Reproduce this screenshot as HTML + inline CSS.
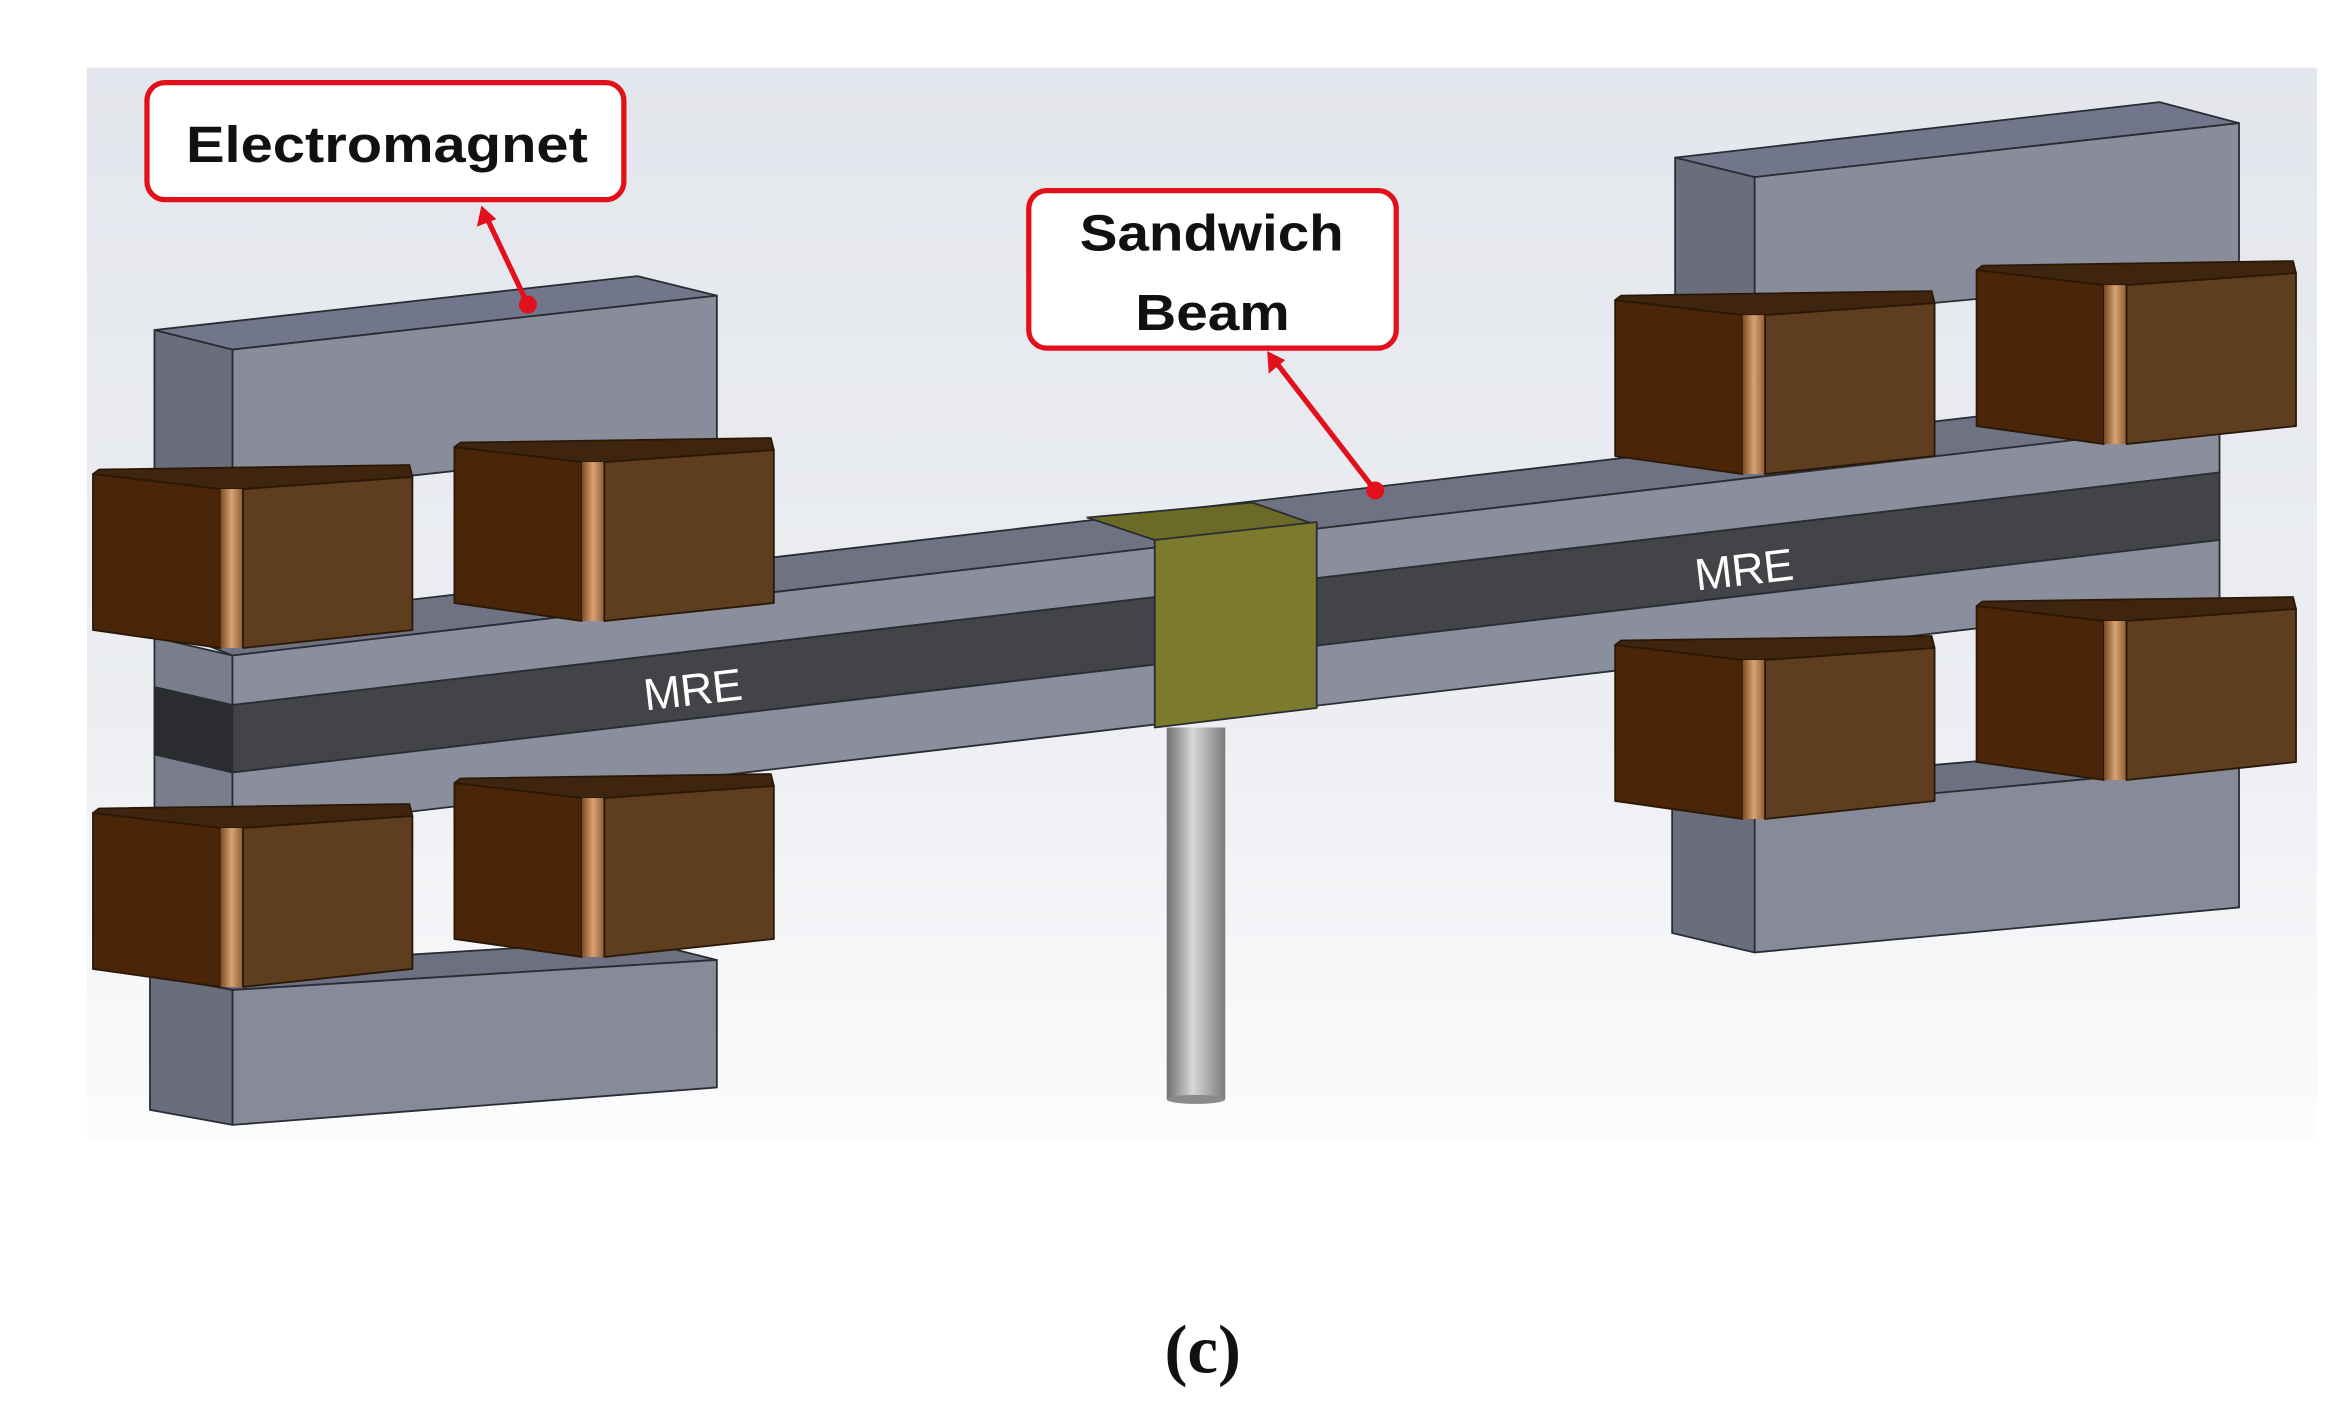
<!DOCTYPE html>
<html><head><meta charset="utf-8"><style>html,body{margin:0;padding:0;background:#fff}svg{display:block}</style></head>
<body>
<svg width="2332" height="1407" viewBox="0 0 1555 938" xmlns="http://www.w3.org/2000/svg">
<defs>
<linearGradient id="bg" x1="0" y1="0" x2="0" y2="1"><stop offset="0" stop-color="#e3e6ec"/><stop offset="0.6" stop-color="#eceef2"/><stop offset="1" stop-color="#fcfcfd"/></linearGradient>
<linearGradient id="rod" x1="0" y1="0" x2="1" y2="0"><stop offset="0" stop-color="#707070"/><stop offset="0.45" stop-color="#d8d8d8"/><stop offset="1" stop-color="#7a7a7a"/></linearGradient>
<linearGradient id="strip" x1="0" y1="0" x2="1" y2="0"><stop offset="0" stop-color="#7a4a22"/><stop offset="0.5" stop-color="#d9a273"/><stop offset="1" stop-color="#8a5a30"/></linearGradient>
<g id="coil" stroke="#2a1806" stroke-width="1.2" stroke-linejoin="round">
<polygon points="0,0 4,-3 211,-6 213,2 100,10 85,10" fill="#3f2510"/>
<polygon points="0,0 85,10 85,116 0,104" fill="#4a2508"/>
<polygon points="85,10 100,10 100,116 85,116" fill="url(#strip)" stroke="none"/>
<polygon points="100,10 213,2 213,104 100,116" fill="#5f3e20"/>
</g>
</defs>
<rect x="0" y="0" width="1555" height="938" fill="#fff"/>
<rect x="58" y="45" width="1487" height="715" fill="url(#bg)"/>
<g stroke="#2a2c33" stroke-width="1.2" stroke-linejoin="round">
<polygon points="103,220 425,184 478,197 155,233" fill="#72768a"/>
<polygon points="155,233 478,197 478,295 155,330" fill="#888c9b"/>
<polygon points="103,220 155,233 155,330 103,322" fill="#6a6e7c"/>
<polygon points="103,647 426,627 478,640 155,660" fill="#6c7080"/>
<polygon points="155,660 478,640 478,725 155,750" fill="#868a99"/>
<polygon points="100,650 155,660 155,750 100,740" fill="#6a6e7c"/>
<polygon points="1117,105 1440,68 1493,82 1170,118" fill="#72768a"/>
<polygon points="1170,118 1493,82 1493,183 1170,213" fill="#888c9b"/>
<polygon points="1117,105 1170,118 1170,213 1117,200" fill="#6a6e7c"/>
<polygon points="1115,525 1440,497 1493,510 1170,540" fill="#6c7080"/>
<polygon points="1170,540 1493,510 1493,605 1170,635" fill="#868a99"/>
<polygon points="1115,525 1170,540 1170,635 1115,622" fill="#6a6e7c"/>
<polygon points="110,419 1435,264 1480,282 155,437" fill="#6e7282"/>
<polygon points="103,425 155,437 155,555 103,543" fill="#7a7e8c"/>
<polygon points="103,458 155,470 155,515 103,503" fill="#2b2c2f"/>
<polygon points="155,437 1480,282 1480,315 155,470" fill="#8a8e9d"/>
<polygon points="155,470 1480,315 1480,360 155,515" fill="#434447"/>
<polygon points="155,515 1480,360 1480,400 155,555" fill="#8a8e9d"/>
<polygon points="725,345 835,335 878,350 770,360" fill="#6b6a26"/>
<polygon points="770,360 878,348 878,472 770,485" fill="#7c7a2c"/>
</g>
<rect x="778" y="485" width="39" height="248" fill="url(#rod)"/>
<ellipse cx="797.5" cy="733" rx="19.5" ry="3" fill="#8a8a8a"/>
<use href="#coil" x="62" y="316"/>
<use href="#coil" x="303" y="298"/>
<use href="#coil" x="62" y="542"/>
<use href="#coil" x="303" y="522"/>
<use href="#coil" x="1077" y="200"/>
<use href="#coil" x="1318" y="180"/>
<use href="#coil" x="1077" y="430"/>
<use href="#coil" x="1318" y="404"/>
<g font-family="Liberation Sans, sans-serif" fill="#fff" font-size="30">
<text x="462" y="470" text-anchor="middle" transform="rotate(-6.5 462 460)" textLength="66">MRE</text>
<text x="1163" y="390" text-anchor="middle" transform="rotate(-6.5 1163 380)" textLength="66">MRE</text>
</g>
<g stroke="#e2101a" fill="none" stroke-width="3.5">
<rect x="98" y="55" width="318" height="78" rx="12" fill="#fff"/>
<rect x="686" y="127" width="245" height="105" rx="12" fill="#fff"/>
<line x1="352" y1="203" x2="325" y2="146"/>
<line x1="917" y1="327" x2="852" y2="243"/>
</g>
<g fill="#e2101a">
<circle cx="352" cy="203" r="6"/><circle cx="917" cy="327" r="6"/>
<polygon points="321,137 318,151 331,146"/>
<polygon points="845,234 846,249 857,240"/>
</g>
<g font-family="Liberation Sans, sans-serif" font-weight="bold" font-size="34" fill="#111">
<text x="124" y="108" textLength="268" lengthAdjust="spacingAndGlyphs">Electromagnet</text>
<text x="720" y="167" textLength="176" lengthAdjust="spacingAndGlyphs">Sandwich</text>
<text x="757" y="220" textLength="103" lengthAdjust="spacingAndGlyphs">Beam</text>
</g>
<text x="802" y="915" text-anchor="middle" font-family="Liberation Serif, serif" font-weight="bold" font-size="46" fill="#111">(c)</text>
</svg>
</body></html>
